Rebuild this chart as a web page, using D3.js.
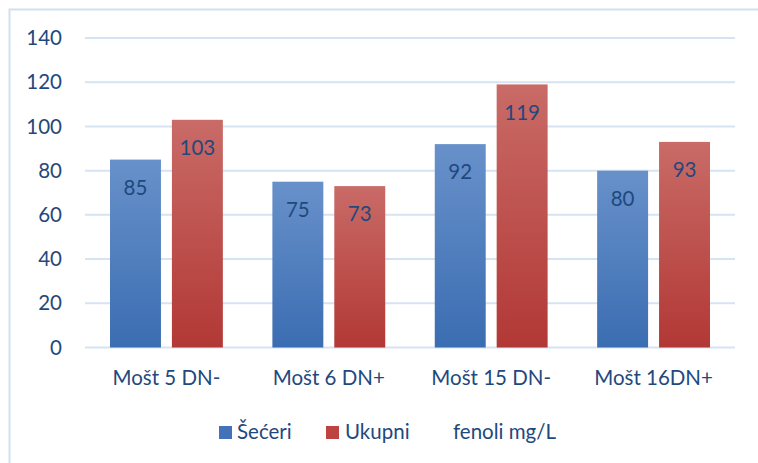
<!DOCTYPE html>
<html>
<head>
<meta charset="utf-8">
<script src="https://cdn.jsdelivr.net/npm/d3@7"></script>
<style>
  body { margin: 0; background: #fff; }
  svg text { font-family: Lato, "Open Sans", sans-serif; fill: #1f497d; }
</style>
</head>
<body>
<svg id="chart" width="758" height="463"></svg>
<script>
// podaci
var categories = ["Mošt 5 DN-", "Mošt 6 DN+", "Mošt 15 DN-", "Mošt 16DN+"];
var seriesNames = ["Šećeri", "Ukupni", "fenoli mg/L"];
var seceri = [85, 75, 92, 80];
var fenoli = [103, 73, 119, 93];
var yTicks = [0, 20, 40, 60, 80, 100, 120, 140];

var svg = d3.select("#chart");
var plot = { left: 85, right: 735, top: 38, bottom: 347.5 };
var fs = 20.5;

// okvir
svg.append("rect")
  .attr("x", 9.5).attr("y", 9.5)
  .attr("width", 770).attr("height", 470)
  .attr("fill", "none")
  .attr("stroke", "#d3e0f0")
  .attr("stroke-width", 2);

var x = d3.scaleBand().domain(categories).range([plot.left, plot.right]).paddingInner(0.305).paddingOuter(0.154);
var x1 = d3.scaleBand().domain([0, 1]).range([0, x.bandwidth()]).paddingInner(0.177);
var y = d3.scaleLinear().domain([0, 140]).range([plot.bottom, plot.top]);

// gradienti
var defs = svg.append("defs");
var grads = [["gBlue", "#6891ca", "#3b6db2"], ["gRed", "#c96b67", "#b23835"]];
grads.forEach(function(g) {
  var lg = defs.append("linearGradient").attr("id", g[0])
    .attr("x1", 0).attr("y1", 0).attr("x2", 0).attr("y2", 1);
  lg.append("stop").attr("offset", "0%").attr("stop-color", g[1]);
  lg.append("stop").attr("offset", "100%").attr("stop-color", g[2]);
});

// mreža
svg.append("g").selectAll("line").data(yTicks).join("line")
  .attr("x1", plot.left).attr("x2", plot.right)
  .attr("y1", function(d) { return y(d); }).attr("y2", function(d) { return y(d); })
  .attr("stroke", "#d6e3f3").attr("stroke-width", 2);

// y-os oznake
svg.append("g").selectAll("text").data(yTicks).join("text")
  .attr("x", 62).attr("y", function(d) { return y(d); })
  .attr("dy", "0.35em")
  .attr("text-anchor", "end")
  .attr("font-size", fs)
  .text(function(d) { return d; });

// stupci
var series = [seceri, fenoli];
var fills = ["url(#gBlue)", "url(#gRed)"];
series.forEach(function(vals, s) {
  var g = svg.append("g");
  g.selectAll("rect").data(vals).join("rect")
    .attr("x", function(d, i) { return x(categories[i]) + x1(s); })
    .attr("y", function(d) { return y(d); })
    .attr("width", x1.bandwidth())
    .attr("height", function(d) { return y(0) - y(d); })
    .attr("fill", fills[s]);
  g.selectAll("text").data(vals).join("text")
    .attr("x", function(d, i) { return x(categories[i]) + x1(s) + x1.bandwidth() / 2; })
    .attr("y", function(d) { return y(d) + 28; })
    .attr("dy", "0.35em")
    .attr("text-anchor", "middle")
    .attr("font-size", fs)
    .text(function(d) { return d; });
});

// kategorije
svg.append("g").selectAll("text").data(categories).join("text")
  .attr("x", function(d) { return x(d) + x.bandwidth() / 2; })
  .attr("y", 378)
  .attr("dy", "0.35em")
  .attr("text-anchor", "middle")
  .attr("font-size", fs)
  .text(function(d) { return d; });

// legenda
var legend = svg.append("g");
var swatches = [["#4472b8", 219], ["#bd4240", 326]];
swatches.forEach(function(s) {
  legend.append("rect")
    .attr("x", s[1]).attr("y", 426)
    .attr("width", 13).attr("height", 13)
    .attr("fill", s[0]);
});
var lx = [237, 345, 453];
seriesNames.forEach(function(name, i) {
  legend.append("text")
    .attr("x", lx[i]).attr("y", 432)
    .attr("dy", "0.35em")
    .attr("font-size", fs)
    .text(name);
});
</script>
</body>
</html>
